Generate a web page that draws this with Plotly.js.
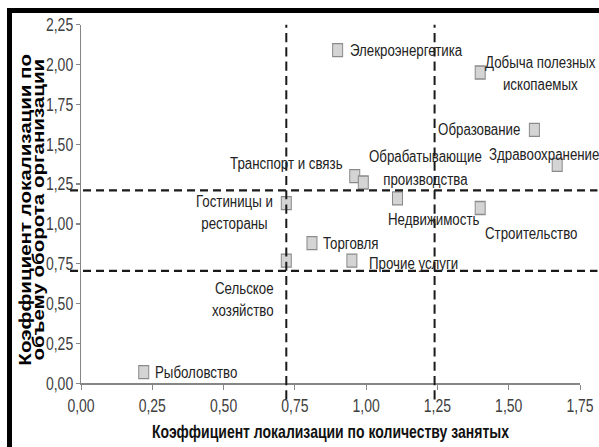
<!DOCTYPE html>
<html>
<head>
<meta charset="utf-8">
<script src="https://cdn.plot.ly/plotly-3.0.1.min.js"></script>
<style>
  html, body { margin: 0; padding: 0; background: #fff; }
  #wrap { position: relative; width: 599px; height: 447px; overflow: hidden; }
  #chart { position: absolute; left: 0; top: 0; width: 599px; height: 344px;
           transform-origin: 0 0; transform: scale(1, 1.2994); }
  #frame { position: absolute; left: 7px; top: 8px; width: 600px; height: 450px;
           border-top: 5px solid #000; border-left: 5px solid #000; pointer-events: none; }
</style>
</head>
<body>
<div id="wrap">
  <div id="chart"></div>
  <div id="frame"></div>
</div>
<script>
// ---- data ----
const sectors = [
  "Рыболовство",
  "Сельское<br>хозяйство",
  "Гостиницы и<br>рестораны",
  "Торговля",
  "Прочие услуги",
  "Транспорт и связь",
  "Обрабатывающие<br>производства",
  "Недвижимость",
  "Строительство",
  "Элекроэнергетика",
  "Добыча полезных<br>ископаемых",
  "Образование",
  "Здравоохранение"
];
const employmentLQ = [0.22, 0.72, 0.72, 0.81, 0.95, 0.96, 0.99, 1.11, 1.40, 0.90, 1.40, 1.59, 1.67];
const turnoverLQ   = [0.07, 0.77, 1.13, 0.88, 0.77, 1.30, 1.26, 1.16, 1.10, 2.09, 1.95, 1.59, 1.37];
const thresholdsX = [0.72, 1.24];
const thresholdsY = [1.21, 0.705];
const xTicks = [0, 0.25, 0.5, 0.75, 1.0, 1.25, 1.5, 1.75];
const yTicks = [0, 0.25, 0.5, 0.75, 1.0, 1.25, 1.5, 1.75, 2.0, 2.25];
const fmt = v => v.toFixed(2).replace('.', ',');

// ---- label placement (pixel offsets from marker, before vertical stretch) ----
const labelPlace = [
  {xa: 'left',   ya: 'middle', dx: 9,   dy: 0,     al: 'left'},
  {xa: 'right',  ya: 'top',    dx: -10, dy: -11,   al: 'right'},
  {xa: 'right',  ya: 'middle', dx: -11, dy: -7,    al: 'center'},
  {xa: 'left',   ya: 'middle', dx: 9,   dy: 0,     al: 'left'},
  {xa: 'left',   ya: 'middle', dx: 15,  dy: -2,    al: 'left'},
  {xa: 'right',  ya: 'middle', dx: -10, dy: 10,    al: 'right'},
  {xa: 'left',   ya: 'middle', dx: 4,   dy: 11.5,  al: 'center'},
  {xa: 'left',   ya: 'middle', dx: -12, dy: -16,   al: 'left'},
  {xa: 'left',   ya: 'middle', dx: 3,   dy: -19,   al: 'left'},
  {xa: 'left',   ya: 'middle', dx: 10,  dy: 0,     al: 'left'},
  {xa: 'left',   ya: 'middle', dx: 3,   dy: 0,     al: 'center'},
  {xa: 'right',  ya: 'middle', dx: -12, dy: 0,     al: 'right'},
  {xa: 'center', ya: 'middle', dx: -13, dy: 8.5,   al: 'center'}
];

const SANS = '"Liberation Sans", Arial, sans-serif';

const trace = {
  type: 'scatter',
  mode: 'markers',
  x: employmentLQ,
  y: turnoverLQ,
  marker: {symbol: 'square', size: 10, color: '#d4d4d4', line: {color: '#8a8a8a', width: 1}},
  hoverinfo: 'text',
  text: sectors,
  cliponaxis: false
};

const annotations = sectors.map((s, i) => ({
  x: employmentLQ[i], y: turnoverLQ[i], xref: 'x', yref: 'y',
  text: s, showarrow: false,
  xanchor: labelPlace[i].xa, yanchor: labelPlace[i].ya,
  xshift: labelPlace[i].dx, yshift: labelPlace[i].dy,
  align: labelPlace[i].al,
  font: {family: SANS, size: 13.3, color: '#222222'}
}));

annotations.push({
  xref: 'paper', yref: 'paper', x: 0, y: 0.5, xshift: -55, yshift: -4.5,
  xanchor: 'center', yanchor: 'middle', textangle: -90, showarrow: false,
  text: 'Коэффициент локализации по',
  font: {family: SANS, size: 15.8, weight: 'bold', color: '#000'}
});
annotations.push({
  xref: 'paper', yref: 'paper', x: 0, y: 0.5, xshift: -42, yshift: -4.5,
  xanchor: 'center', yanchor: 'middle', textangle: -90, showarrow: false,
  text: 'объему оборота организации',
  font: {family: SANS, size: 15.8, weight: 'bold', color: '#000'}
});

const shapes = [];
thresholdsX.forEach(v => shapes.push({
  type: 'line', xref: 'x', yref: 'paper', x0: v, x1: v, y0: -0.045, y1: 1,
  line: {color: '#1a1a1a', width: 2, dash: '7px,4px'}, layer: 'above'
}));
thresholdsY.forEach(v => shapes.push({
  type: 'line', xref: 'paper', yref: 'y', x0: -0.022, x1: 1.035, y0: v, y1: v,
  line: {color: '#1a1a1a', width: 1.7, dash: '8px,5px'}, layer: 'above'
}));

const axisCommon = {
  showgrid: false, zeroline: false, showline: true, linecolor: '#868686', linewidth: 1,
  ticks: 'outside', ticklen: 4, tickcolor: '#868686', tickwidth: 1,
  tickfont: {family: SANS, size: 14, color: '#404040'}
};

const layout = {
  width: 599, height: 344,
  margin: {l: 81, r: 19, t: 19, b: 49},
  paper_bgcolor: 'rgba(0,0,0,0)', plot_bgcolor: 'rgba(0,0,0,0)',
  showlegend: false,
  xaxis: Object.assign({}, axisCommon, {
    range: [0, 1.75], tickvals: xTicks, ticktext: xTicks.map(fmt),
    title: {text: 'Коэффициент локализации по количеству занятых', standoff: 8,
            font: {family: SANS, size: 14, weight: 'bold', color: '#111'}}
  }),
  yaxis: Object.assign({}, axisCommon, {
    range: [0, 2.25], tickvals: yTicks, ticktext: yTicks.map(fmt)
  }),
  shapes: shapes,
  annotations: annotations
};

Plotly.newPlot('chart', [trace], layout, {displayModeBar: false, staticPlot: true});
</script>
</body>
</html>
